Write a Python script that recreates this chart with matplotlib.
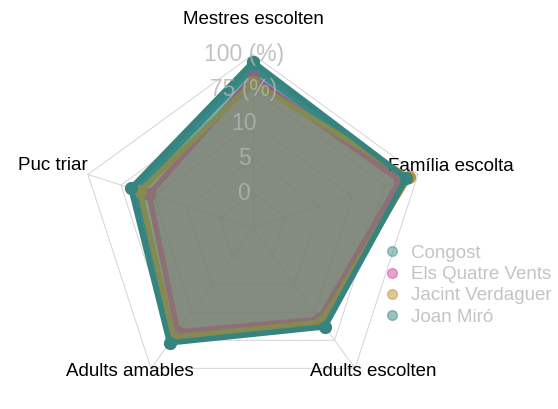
import numpy as np
import matplotlib
matplotlib.use("Agg")
import matplotlib.pyplot as plt
from matplotlib.lines import Line2D

# axes, clockwise from the top
axis_names = ["Mestres escolten", "Família escolta", "Adults escolten",
              "Adults amables", "Puc triar"]

# values as % of the outer ring
congost = [92, 91, 68, 79, 71]
quatre_vents = [87, 89, 65, 74, 63]
verdaguer = [84, 94.5, 67, 78, 68.5]
joan_miro = [95.7, 93, 70.4, 81.8, 74]

schools = ["Congost", "Els Quatre Vents", "Jacint Verdaguer", "Joan Miró"]
colors = ["#3E8E8B", "#D4459A", "#C08E32", "#35847F"]

grid_levels = [20, 40, 60, 80, 100]
grid_labels = ["0", "5", "10", "75 (%)", "100 (%)"]

plt.rcParams['font.family'] = ['Liberation Sans', 'DejaVu Sans']

n = len(axis_names)
ang = np.pi / 2 - np.arange(n) * 2 * np.pi / n

def xy(vals):
    v = np.asarray(vals, dtype=float)
    x = v * np.cos(ang)
    y = v * np.sin(ang)
    return np.append(x, x[0]), np.append(y, y[0])

fig = plt.figure(figsize=(5.58, 4.09), dpi=100)
ax = fig.add_axes([0, 0, 1, 1])
px = 1.735  # pixels per unit
ax.set_xlim(-253 / px, (558 - 253) / px)
ax.set_ylim((228 - 409) / px, 228 / px)
ax.axis("off")

# grid pentagons and spokes
for lv in grid_levels:
    gx, gy = xy([lv] * n)
    ax.plot(gx, gy, color="#d4d4d4", lw=0.7, zorder=1)
for a in ang:
    ax.plot([0, 100 * np.cos(a)], [0, 100 * np.sin(a)], color="#d4d4d4", lw=0.7, zorder=1)

series = [congost, quatre_vents, verdaguer, joan_miro]
for i, vals in enumerate(series):
    sx, sy = xy(vals)
    ax.fill(sx, sy, color=colors[i], alpha=0.42, lw=0, zorder=2 + i)
    ax.plot(sx, sy, color=colors[i], lw=4, marker="o", ms=8.5,
            solid_joinstyle="round", zorder=2 + i)

# grid labels on the top axis
for lv, lab in zip(grid_levels, grid_labels):
    ax.text(-5.2, lv, lab, ha="center", va="center", fontsize=16.5,
            color="#b3b3b3", alpha=0.8, zorder=10)

# axis labels
fs = 13.5
ax.text(0, 119.9, axis_names[0], ha="center", va="center", fontsize=fs)
ax.text(77.8, 35.7, axis_names[1], ha="left", va="center", fontsize=fs)
ax.text(69.5, -82.5, axis_names[2], ha="center", va="center", fontsize=fs)
ax.text(-71.2, -82.5, axis_names[3], ha="center", va="center", fontsize=fs)
ax.text(-95.1, 36.3, axis_names[4], ha="right", va="center", fontsize=fs)

handles = [Line2D([], [], ls="none", marker="o", ms=7, color=c, alpha=0.5)
           for c in colors]
leg = ax.legend(handles, schools, loc="upper left", bbox_to_anchor=(0.676, 0.42),
                frameon=False, fontsize=13.5, labelcolor="#c4c4c4",
                handlelength=0.8, handletextpad=0.6, labelspacing=0.22,
                borderaxespad=0)

fig.savefig("out.png", dpi=100)
